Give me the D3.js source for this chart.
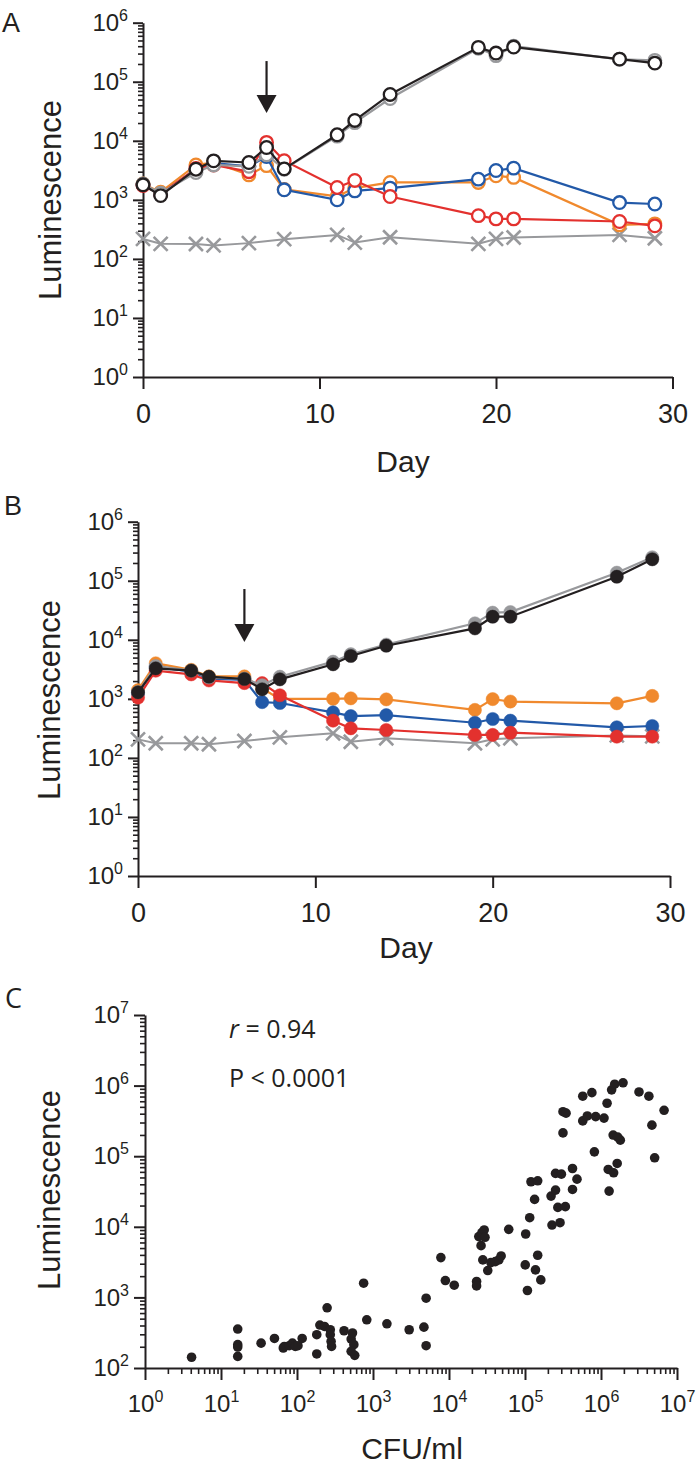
<!DOCTYPE html>
<html><head><meta charset="utf-8">
<script src="https://cdn.jsdelivr.net/npm/d3@7"></script>
<style>
body{margin:0;background:#fff}
svg{display:block}
text{font-family:"Liberation Sans",Arial,Helvetica,sans-serif;fill:#231f20}
.axis path,.axis line{stroke:#231f20;stroke-width:2;fill:none}
.minor line{stroke-width:1.6}
</style>
</head><body>
<svg id="c" width="700" height="1464"></svg>
<script>
// ---------- data ----------
const days = [0,1,3,4,6,7,8,11,12,14,19,20,21,27,29];
const controlDays = [0,1,3,4,6,8,11,12,14,19,20,21,27,29];
const dayTicks = [0,10,20,30];
const lumTicks = [1,10,100,1000,10000,100000,1000000];

// Panel A (open circles)
const aControl = [218,180,179,169,185,216,255,189,233,180,218,230,255,224];
const aOrange = [1850,1350,3900,4300,2650,3800,1500,1150,1580,1970,1970,2550,2400,377,392];
const aBlue   = [1800,1250,3300,4200,3700,5400,1480,1000,1420,1580,2240,3140,3440,900,850];
const aRed    = [1750,1250,3400,3900,3000,9400,4600,1620,2130,1140,540,476,476,430,363];
const aGray   = [1850,1300,2900,3900,3700,5800,3300,12000,20300,52000,370000,277000,400000,240000,230000];
const aBlack  = [1800,1180,3300,4580,4290,7700,3350,12650,22100,61000,382000,306000,387000,242000,207000];

// Panel B (filled circles)
const bControl = [206,177,177,170,193,223,261,188,215,177,206,215,240,232];
const bOrange = [1400,4000,3100,2400,2400,1500,1000,1000,1020,980,650,990,900,840,1120];
const bBlue   = [1250,3500,2900,2200,2100,880,850,590,510,530,394,456,427,330,347];
const bRed    = [1050,3000,2600,2050,1850,1850,1150,427,317,297,245,245,267,229,229];
const bGray   = [1300,3600,3000,2300,2200,1700,2370,4260,5700,8300,19000,28800,29500,137000,250000];
const bBlack  = [1290,3290,3000,2370,2170,1450,2140,3850,5320,7940,15600,24600,24600,117000,231000];

// arrows [day, from, to]
const arrowA = [7, 224000, 29600];
const arrowB = [6, 72400, 9180];

// Panel C scatter
const cfu = [4.1,16.6,16.6,16.6,16.6,33.7,50.5,66,68,79,87,95,103,117,182,182,200,230,249,274,274,281,285,416,516,537,560,516,575,753,828,1524,2992,4677,5000,5000,7816,8954,11720,23070,23070,24660,27100,29040,29790,26420,27860,32360,35560,40640,45290,48530,61090,102100,100700,107600,115300,119900,146900,133700,137400,146900,161400,220300,252300,252300,301300,226500,289100,270400,339600,421700,421700,483100,818400,1245000,1466000,1633000,1279000,1795000,5080000,
  316000,346700,316000,575400,758600,575400,660700,851100,1096000,1202000,1380000,1514000,1950000,3162000,4266000,6761000,4677000,1445000,1660000];
const lum = [142,356,214,198,146,225,262,192,202,207,225,202,207,262,296,158,406,388,713,348,296,238,202,337,257,313,214,172,151,1589,482,423,348,379,975,207,3664,1734,1489,1679,1455,7261,8260,9016,7096,5410,3396,2399,3112,3214,3396,3864,9204,7907,2884,1253,13460,43450,44870,24430,2455,3954,1770,27230,33110,57020,55720,10590,11430,18840,19280,66990,33810,47320,115300,64860,58210,78890,32060,168700,94840,
  426600,407400,213800,707900,794300,316000,371500,363100,346700,562300,871000,1047000,1096000,812800,707900,446700,275400,199500,186200];
const cfuTicks = [1,10,100,1000,10000,100000,1000000,10000000];
const cLumTicks = [100,1000,10000,100000,1000000,10000000];

const colors = {orange:"#f0892d", blue:"#2259a8", red:"#e3312e", gray:"#98999c", black:"#231f20"};

// ---------- helpers ----------
const svg = d3.select("#c");
const ink = "#231f20";

function minorVals(ticks){
  const out=[];
  for(let i=0;i<ticks.length-1;i++) for(let k=2;k<=9;k++) out.push(ticks[i]*k);
  return out;
}
function supLabels(g, size, supSize){
  g.selectAll(".tick text").each(function(d){
    const t=d3.select(this);
    const e=Math.round(Math.log10(d));
    t.text(null).style("font-size",size+"px");
    t.append("tspan").text("10");
    t.append("tspan").text(e).attr("dy",(-0.42*size)+"px").style("font-size",supSize+"px");
  });
}

function panel(cfg){
  const x=d3.scaleLinear().domain([0,30]).range(cfg.xr);
  const y=d3.scaleLog().domain([1,1e6]).range(cfg.yr);
  // y axis
  const gy=svg.append("g").attr("class","axis").attr("transform",`translate(${cfg.xr[0]},0)`);
  gy.call(d3.axisLeft(y).tickValues(lumTicks).tickSize(10).tickSizeOuter(0).tickPadding(5));
  supLabels(gy,24,16);
  svg.append("g").attr("class","axis minor").attr("transform",`translate(${cfg.xr[0]},0)`)
    .call(d3.axisLeft(y).tickValues(minorVals(lumTicks)).tickSize(5).tickFormat("")).select(".domain").remove();
  // x axis
  const gx=svg.append("g").attr("class","axis").attr("transform",`translate(0,${cfg.yr[0]})`);
  gx.call(d3.axisBottom(x).tickValues(dayTicks).tickSize(12).tickSizeOuter(0).tickPadding(15));
  gx.selectAll(".tick text").style("font-size","27px");
  gx.selectAll("text").attr("fill",ink);
  gy.selectAll("text").attr("fill",ink);
  svg.selectAll(".axis .domain").attr("stroke",ink);
  svg.selectAll(".axis line").attr("stroke",ink);

  const line=d3.line().x(d=>x(d[0])).y(d=>y(d[1]));
  // control (x marks)
  const ctrl=controlDays.map((d,i)=>[d,cfg.control[i]]);
  svg.append("path").attr("d",line(ctrl)).attr("fill","none").attr("stroke",colors.gray).attr("stroke-width",2);
  const s=7;
  svg.append("g").selectAll("path").data(ctrl).join("path")
    .attr("d",d=>{const cx=x(d[0]),cy=y(d[1]);return `M${cx-s},${cy-s}L${cx+s},${cy+s}M${cx-s},${cy+s}L${cx+s},${cy-s}`;})
    .attr("stroke",colors.gray).attr("stroke-width",2.6).attr("fill","none");

  cfg.series.forEach(sr=>{
    const pts=days.map((d,i)=>[d,sr.v[i]]);
    svg.append("path").attr("d",line(pts)).attr("fill","none").attr("stroke",sr.c).attr("stroke-width",2.2);
    svg.append("g").selectAll("circle").data(pts).join("circle")
      .attr("cx",d=>x(d[0])).attr("cy",d=>y(d[1])).attr("r",cfg.open?6.3:6.6)
      .attr("fill",cfg.open?"#fff":sr.c).attr("stroke",sr.c).attr("stroke-width",cfg.open?2.3:0.5);
  });
  // arrow
  const ax=x(cfg.arrow[0]), y1=y(cfg.arrow[1]), y2=y(cfg.arrow[2]);
  svg.append("line").attr("x1",ax).attr("x2",ax).attr("y1",y1).attr("y2",y2-15).attr("stroke",ink).attr("stroke-width",2.2);
  svg.append("path").attr("d",`M${ax-10},${y2-18}L${ax+10},${y2-18}L${ax},${y2}Z`).attr("fill",ink);

  // titles
  svg.append("text").attr("x",cfg.letter[0]).attr("y",cfg.letter[1]).text(cfg.name).style("font-size","27px");
  svg.append("text").attr("transform",`translate(${cfg.ylab[0]},${cfg.ylab[1]}) rotate(-90)`).attr("text-anchor","middle")
    .text("Luminescence").style("font-size","31px");
  svg.append("text").attr("x",cfg.xlab[0]).attr("y",cfg.xlab[1]).attr("text-anchor","middle").text("Day").style("font-size","30px");
}

panel({name:"A",open:true,xr:[143,672.5],yr:[377,22.7],control:aControl,arrow:arrowA,
  letter:[2,32],ylab:[61,200],xlab:[403,472],
  series:[{v:aOrange,c:colors.orange},{v:aBlue,c:colors.blue},{v:aRed,c:colors.red},{v:aGray,c:colors.gray},{v:aBlack,c:colors.black}]});
panel({name:"B",open:false,xr:[138,670],yr:[876,521.7],control:bControl,arrow:arrowB,
  letter:[4,515],ylab:[60,700],xlab:[406,958],
  series:[{v:bOrange,c:colors.orange},{v:bBlue,c:colors.blue},{v:bRed,c:colors.red},{v:bGray,c:colors.gray},{v:bBlack,c:colors.black}]});

// ---------- Panel C ----------
{
  const x=d3.scaleLog().domain([1,1e7]).range([145,677]);
  const y=d3.scaleLog().domain([100,1e7]).range([1368,1015]);
  const gy=svg.append("g").attr("class","axis").attr("transform","translate(145,0)");
  gy.call(d3.axisLeft(y).tickValues(cLumTicks).tickSize(11).tickSizeOuter(0).tickPadding(5));
  supLabels(gy,24,16);
  svg.append("g").attr("class","axis minor").attr("transform","translate(145,0)")
    .call(d3.axisLeft(y).tickValues(minorVals(cLumTicks)).tickSize(5).tickFormat("")).select(".domain").remove();
  const gx=svg.append("g").attr("class","axis").attr("transform","translate(0,1368)");
  gx.call(d3.axisBottom(x).tickValues(cfuTicks).tickSize(12).tickSizeOuter(0).tickPadding(15));
  supLabels(gx,24,16);
  svg.append("g").attr("class","axis minor").attr("transform","translate(0,1368)")
    .call(d3.axisBottom(x).tickValues(minorVals(cfuTicks)).tickSize(6).tickFormat("")).select(".domain").remove();
  svg.selectAll(".axis text").attr("fill",ink);
  svg.selectAll(".axis .domain").attr("stroke",ink);
  svg.selectAll(".axis line").attr("stroke",ink);

  svg.append("g").selectAll("circle").data(cfu.map((c,i)=>[c,lum[i]])).join("circle")
    .attr("cx",d=>x(d[0])).attr("cy",d=>y(d[1])).attr("r",4.8).attr("fill",ink);

  svg.append("text").attr("x",5).attr("y",1008).text("C").style("font-family","'Open Sans',sans-serif").style("font-size","27px");
  const t1=svg.append("text").attr("x",229).attr("y",1038).style("font-family","'Open Sans',sans-serif").style("font-size","25px");
  t1.append("tspan").text("r").style("font-style","italic");
  t1.append("tspan").text(" = 0.94");
  svg.append("text").attr("x",229).attr("y",1087).style("font-family","'Open Sans',sans-serif").style("font-size","25px").text("P < 0.0001");
  svg.append("text").attr("transform","translate(60,1190) rotate(-90)").attr("text-anchor","middle").text("Luminescence").style("font-size","31px");
  svg.append("text").attr("x",412).attr("y",1459).attr("text-anchor","middle").text("CFU/ml").style("font-size","30px");
}
</script>
</body></html>
